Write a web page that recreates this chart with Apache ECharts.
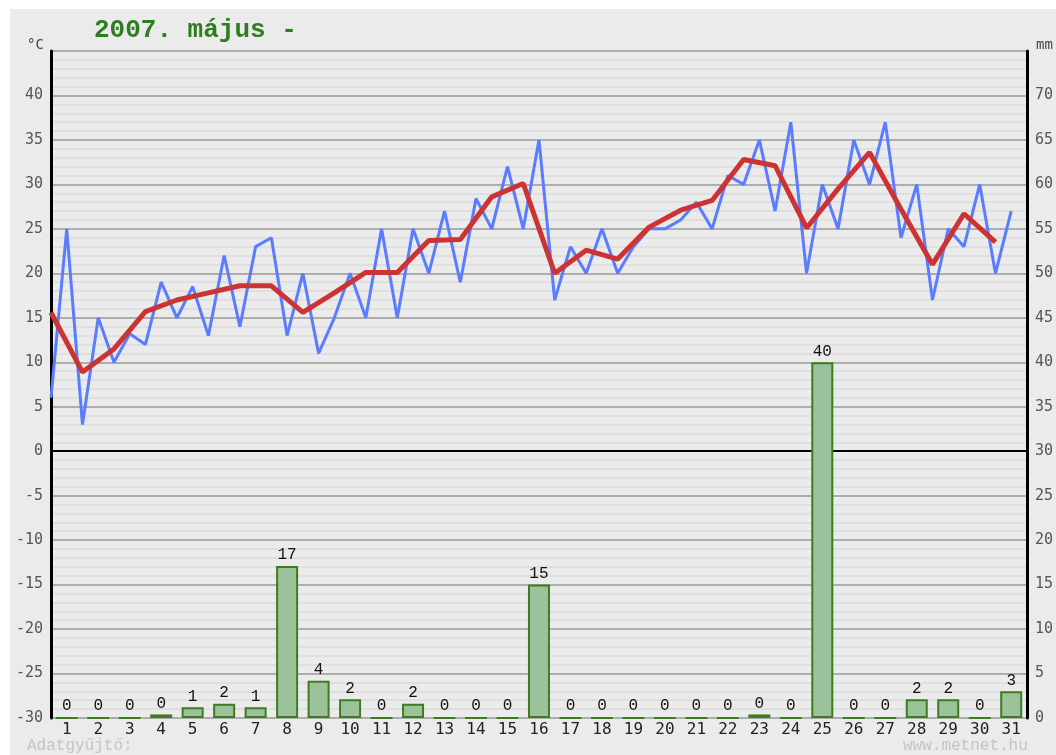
<!DOCTYPE html>
<html>
<head>
<meta charset="utf-8">
<script src="https://cdn.jsdelivr.net/npm/echarts@6/dist/echarts.min.js"></script>
<style>
html,body{margin:0;padding:0;background:#ffffff;}
#chart{position:absolute;left:10px;top:9px;width:1046px;height:746px;}
</style>
</head>
<body>
<div id="chart"></div>
<script>
// Day labels (x axis)
var days = ['1','2','3','4','5','6','7','8','9','10','11','12','13','14','15','16','17','18','19','20','21','22','23','24','25','26','27','28','29','30','31'];
// Temperature readings, two per day (°C)
var tempHalfDay = [6,25,3,15,10,13.2,12,19,15,18.5,13,22,14,23,24,13,20,11,15,20,15,25,15,25,20,27,19,28.4,25,32,25,35,17,23,20,25,20,23,25,25,26,28,25,31,30,35,27,37,20,30,25,35,30,37,24,30,17,25,23,30,20,27];
// Daily mean temperature (°C)
var tempMean = [15.6,8.9,11.5,15.7,17.0,17.8,18.6,18.6,15.6,17.8,20.1,20.1,23.7,23.8,28.6,30.1,20.0,22.6,21.6,25.2,27.1,28.2,32.8,32.1,25.1,29.5,33.6,27.2,21.0,26.7,23.5];
// Daily precipitation (mm)
var precip = [0,0,0,0.4,1.2,1.6,1.2,17.1,4.2,2.1,0,1.6,0,0,0,15,0,0,0,0,0,0,0.4,0,40,0,0,2.1,2.1,0,3];
// Axis ranges / labels
var tempMin = -30, tempMax = 45, precipMin = 0, precipMax = 75;
var titleText = '2007. május -';

var halfDayData = tempHalfDay.map(function(v,i){return [i/2, v];});
var meanData = tempMean.map(function(v,i){return [i, v];});

var chart = echarts.init(document.getElementById('chart'));
var mono = 'DejaVu Sans Mono';
chart.setOption({
  backgroundColor:'#ebebeb',
  animation:false,
  title:{text:titleText,left:84,top:8,padding:0,textStyle:{fontFamily:'Liberation Mono',fontWeight:'bold',fontSize:26,color:'#2e7d1e'}},
  grid:{left:41,right:27,top:42,bottom:37},
  xAxis:[
    {type:'category',data:days,boundaryGap:true,axisLine:{show:false},axisTick:{show:false},
     axisLabel:{color:'#222',fontFamily:mono,fontSize:16,margin:4}},
    {type:'value',min:0,max:days.length,show:false}
  ],
  yAxis:[
    {type:'value',min:tempMin,max:tempMax,interval:5,position:'left',
     axisLine:{show:true,lineStyle:{color:'#000',width:3}},axisTick:{show:false},
     axisLabel:{color:'#555',fontFamily:mono,fontSize:15,margin:8,
       formatter:function(v){return v===tempMax?'':String(v);}},
     splitLine:{show:true,lineStyle:{color:'#999999',width:1.5}},
     minorTick:{show:false,splitNumber:5},
     minorSplitLine:{show:true,lineStyle:{color:'#dcdcdc',width:1.5}}},
    {type:'value',min:precipMin,max:precipMax,interval:5,position:'right',
     axisLine:{show:true,lineStyle:{color:'#000',width:3}},axisTick:{show:false},
     axisLabel:{color:'#555',fontFamily:mono,fontSize:15,margin:8,
       formatter:function(v){return v===precipMax?'':String(v);}},
     splitLine:{show:false}}
  ],
  graphic:[
    {type:'text',left:17,top:29,style:{text:'°C',fontFamily:mono,fontSize:14,fill:'#444'}},
    {type:'text',left:1026,top:29,style:{text:'mm',fontFamily:mono,fontSize:14,fill:'#444'}},
    {type:'text',left:17,top:729,style:{text:'Adatgyűjtő:',fontFamily:'Liberation Mono',fontSize:16,fill:'#c4c4c4'}},
    {type:'text',left:893,top:729,style:{text:'www.metnet.hu',fontFamily:'Liberation Mono',fontSize:16,fill:'#c4c4c4'}}
  ],
  series:[
    {type:'bar',xAxisIndex:0,yAxisIndex:1,data:precip,barWidth:22,
     itemStyle:{color:'#9bc29b',borderColor:'#3d7d1f',borderWidth:2},
     label:{show:true,position:'top',distance:3,color:'#111',fontFamily:'Liberation Mono',fontSize:16,
       formatter:function(p){return String(Math.round(p.value));}},
     z:2},
    {type:'line',xAxisIndex:1,yAxisIndex:0,data:halfDayData,showSymbol:false,symbol:'none',
     lineStyle:{color:'#5a7cff',width:3},z:3},
    {type:'line',xAxisIndex:1,yAxisIndex:0,data:meanData,showSymbol:false,symbol:'none',
     lineStyle:{color:'#cc3333',width:5},z:4,
     markLine:{silent:true,symbol:'none',label:{show:false},lineStyle:{color:'#000',type:'solid',width:2},
       data:[{yAxis:0}],z:1}}
  ]
});
</script>
</body>
</html>
